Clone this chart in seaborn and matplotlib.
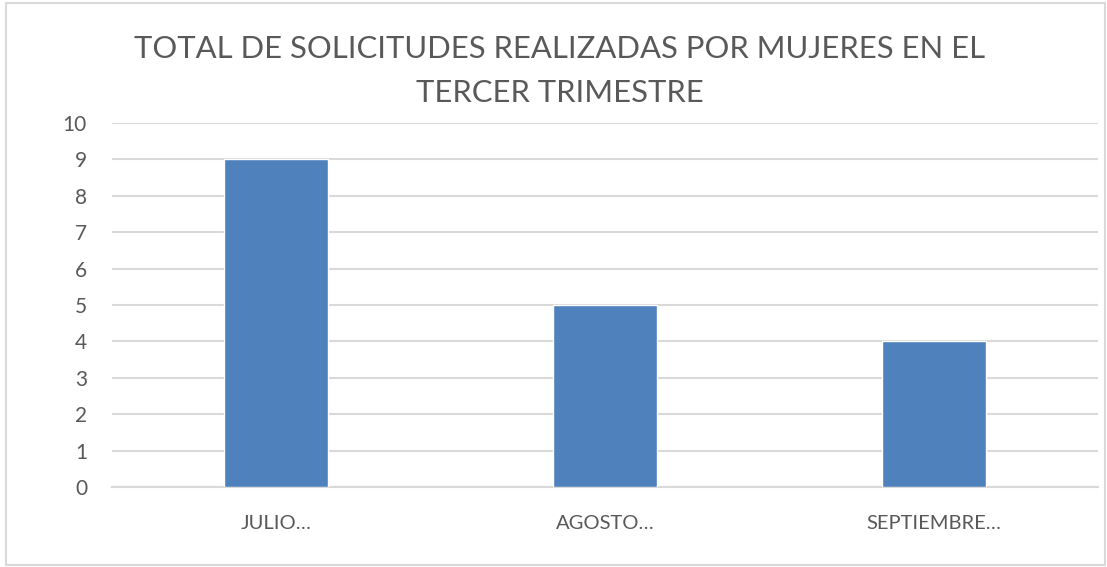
import matplotlib
matplotlib.use("Agg")
import matplotlib.pyplot as plt
import seaborn as sns
import pandas as pd
from matplotlib.patches import Rectangle

categories = ["JULIO…", "AGOSTO…", "SEPTIEMBRE…"]
values = [9, 5, 4]
yticks = list(range(0, 11))
title = "TOTAL DE SOLICITUDES REALIZADAS POR MUJERES EN EL\nTERCER TRIMESTRE"

sns.set_style("white")
plt.rcParams["font.family"] = ["Lato", "DejaVu Sans"]

W, H = 1107, 567
fig = plt.figure(figsize=(W / 100, H / 100), dpi=100)
fig.patch.set_facecolor("white")
fig.patches.append(Rectangle((6 / W, 1 - 565 / H), (1105 - 6) / W, (565 - 3) / H,
                             transform=fig.transFigure, fill=False,
                             edgecolor="#D9D9D9", linewidth=1.5))

ax = fig.add_axes([112 / W, 1 - 487 / H, (1098 - 112) / W, (487 - 123) / H])
df = pd.DataFrame({"mes": categories, "valor": values})
sns.barplot(data=df, x="mes", y="valor", color="#4F81BD", width=0.316,
            saturation=1, ax=ax, zorder=3)

ax.set_ylim(0, 10)
ax.set_xlim(-0.5, 2.5)
ax.set_yticks(yticks)
ax.set_yticklabels([str(t) for t in yticks])
ax.yaxis.grid(True, color="#D9D9D9", linewidth=1.5, zorder=0)
ax.set_axisbelow(True)
for s in ["left", "right", "top"]:
    ax.spines[s].set_visible(False)
ax.spines["bottom"].set_color("#D9D9D9")
ax.spines["bottom"].set_linewidth(1.5)
ax.tick_params(axis="both", length=0, colors="#595959")
ax.tick_params(axis="y", pad=18, labelsize=15)
ax.tick_params(axis="x", pad=20, labelsize=14.5)
ax.set_xlabel("")
ax.set_ylabel("")

fig.text(560 / W, 1 - 71 / H, title, ha="center", va="center", fontsize=22.3,
         color="#595959", linespacing=1.72)

fig.savefig("out.png", dpi=100, facecolor="white")
